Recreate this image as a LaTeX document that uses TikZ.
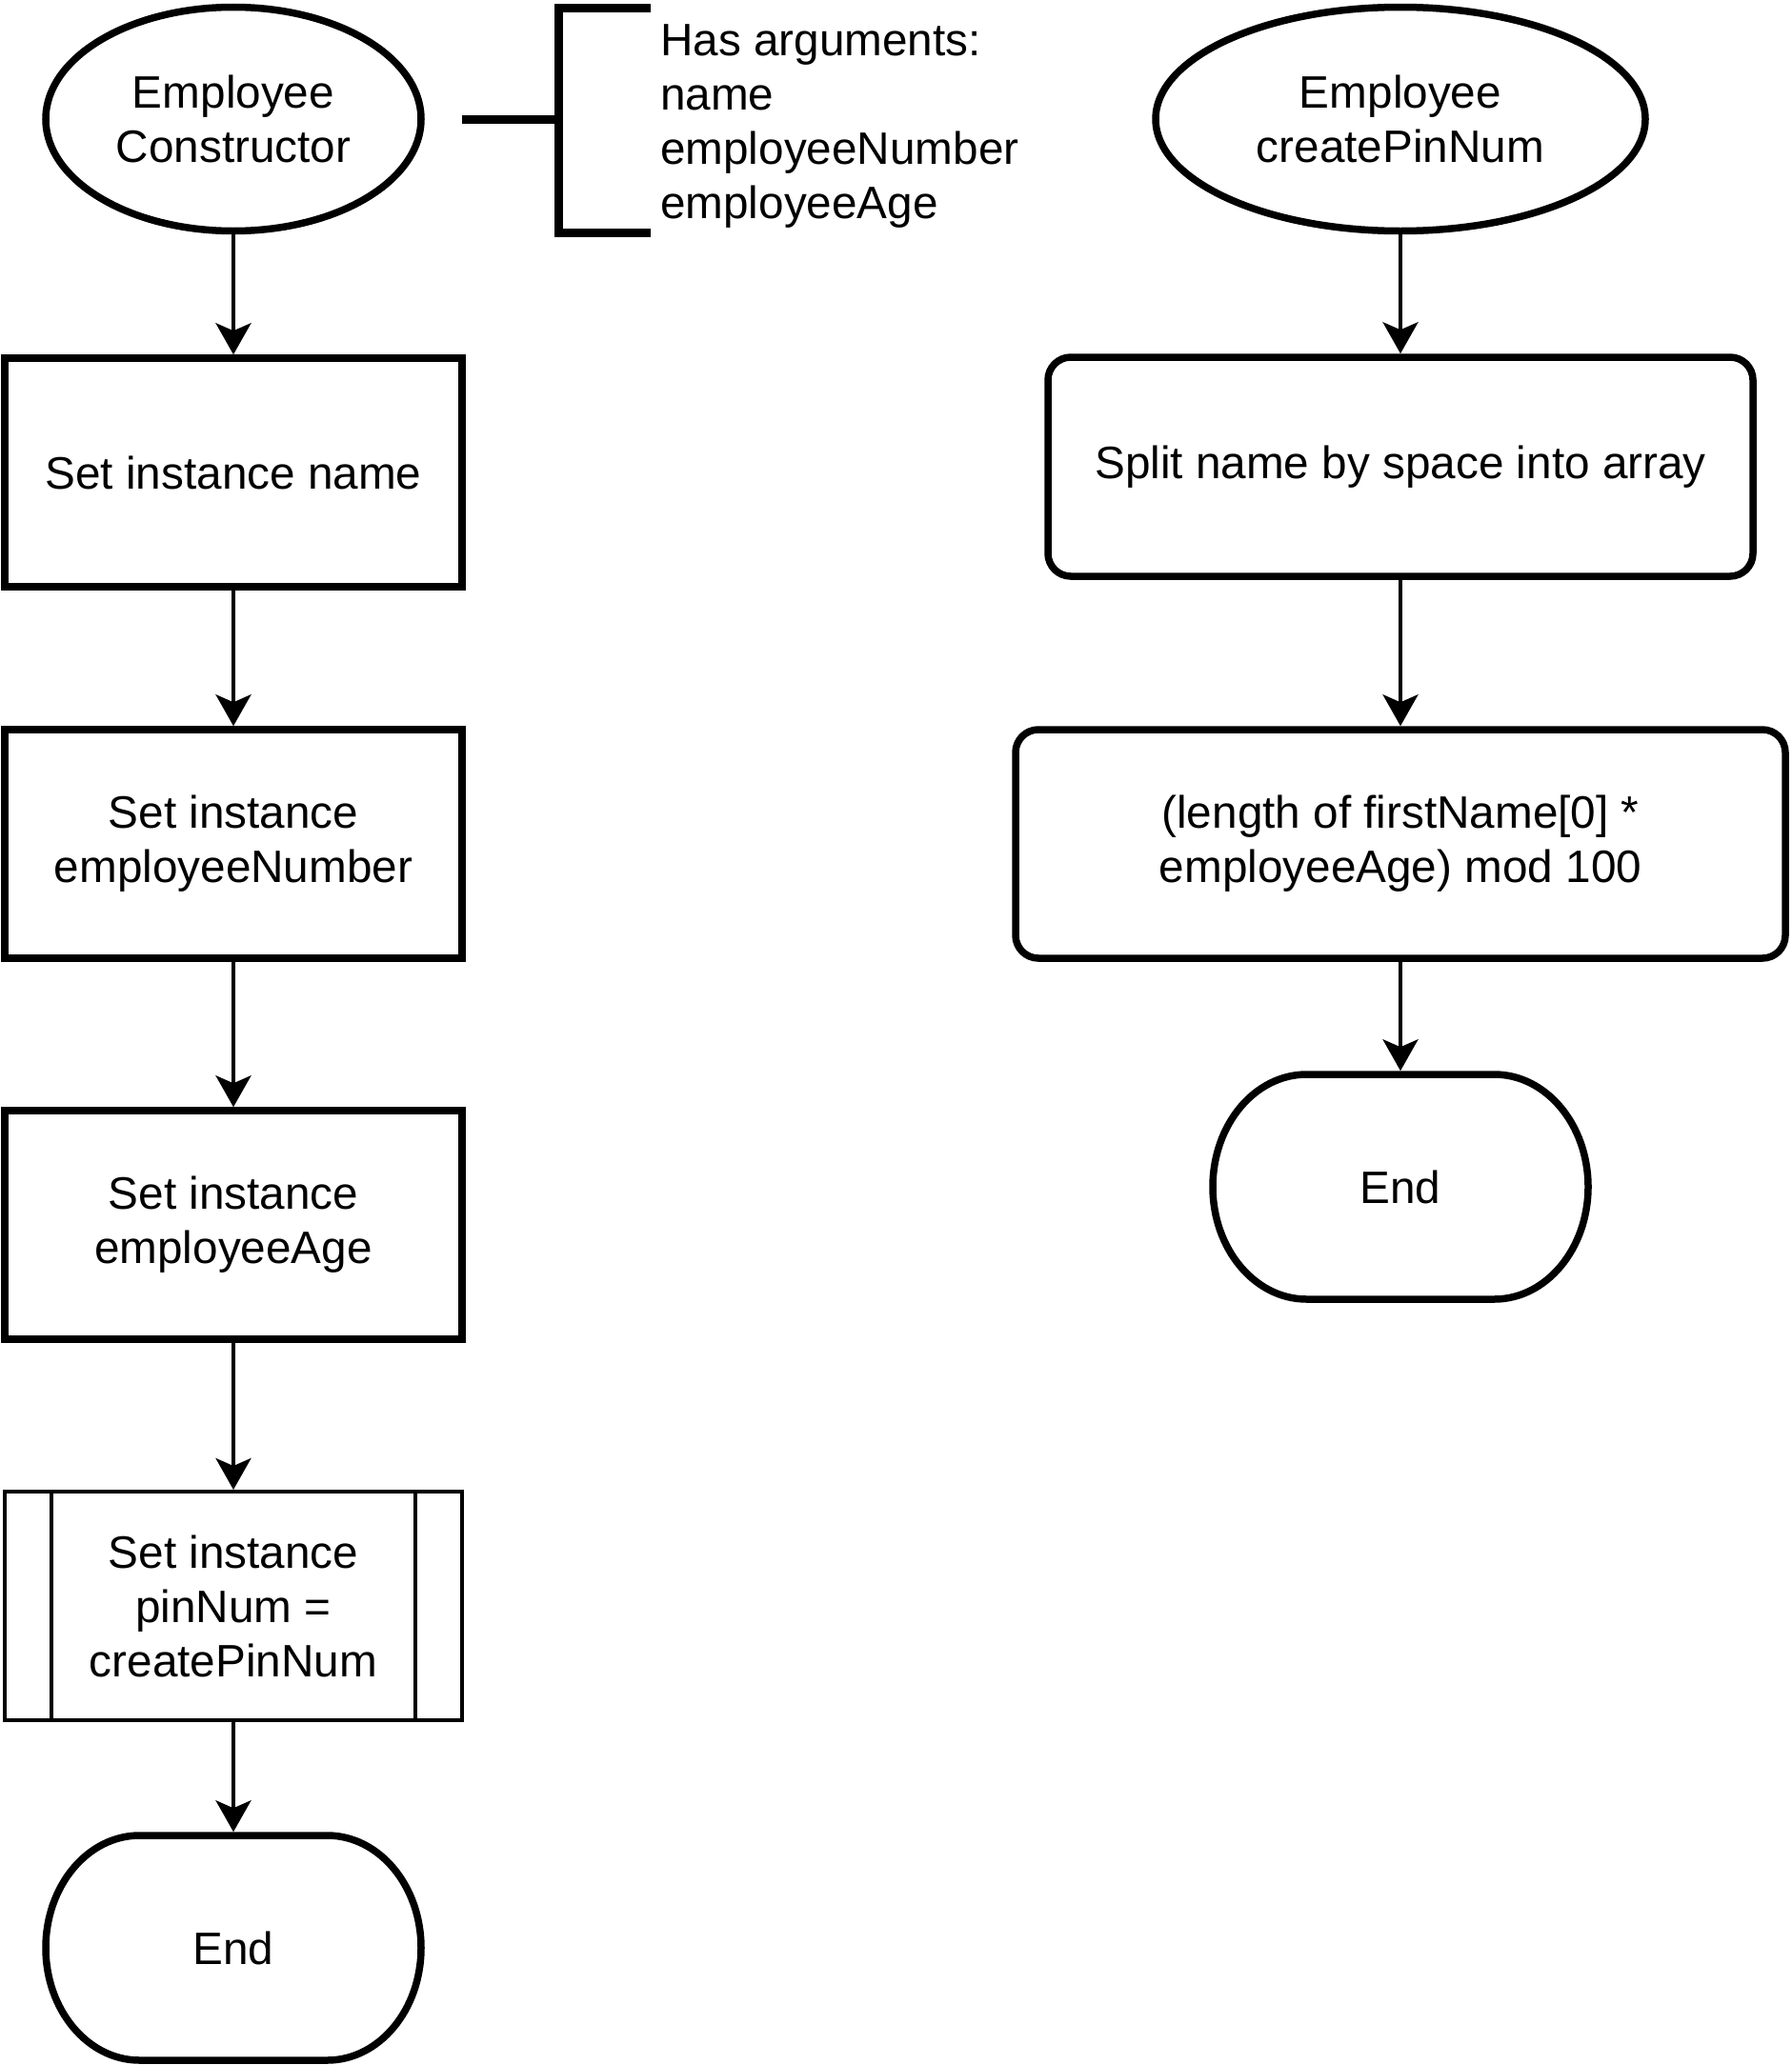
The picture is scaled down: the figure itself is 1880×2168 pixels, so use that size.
\documentclass[tikz,border=0pt]{standalone}
\usepackage{fontspec}
\setmainfont{Liberation Sans}
\usetikzlibrary{arrows.meta,shapes.geometric}

\begin{document}
\begin{tikzpicture}[x=1pt, y=1pt, font=\fontsize{47.7}{57}\selectfont,
  box/.style={draw, line width=7.5pt, minimum width=480pt, minimum height=240pt, align=center, inner sep=0pt},
  start/.style={draw, ellipse, line width=7.5pt, minimum height=235pt, align=center, inner sep=0pt},
  roundbox/.style={box, rounded corners=24pt, minimum height=230pt},
  subproc/.style={box, line width=4pt},
  stop/.style={minimum width=394pt, minimum height=236pt, outer sep=3.75pt},
  flow/.style={line width=4pt, -{Stealth[length=33pt, width=37pt, inset=8pt]}}]

\useasboundingbox (0,0) rectangle (1880,-2168);

\begin{scope}
\node[start, minimum width=394pt] (ctor) at (245,-125) {Employee\\Constructor};
\node[box] (setname) at (245,-496) {Set instance name};
\node[box] (setnum) at (245,-886) {Set instance\\employeeNumber};
\node[box] (setage) at (245,-1286) {Set instance\\employeeAge};
\node[subproc] (setpin) at (245,-1686) {Set instance\\pinNum =\\createPinNum};
\node[stop] (end1) at (245,-2045) {End};
\end{scope}

\draw[line width=4pt] ([xshift=51pt]setpin.north west) -- ([xshift=51pt]setpin.south west)
  ([xshift=-51pt]setpin.north east) -- ([xshift=-51pt]setpin.south east);

\node[anchor=west, align=left, inner sep=0pt] (args) at (693,-133)
  {Has arguments:\\name\\employeeNumber\\employeeAge};
\coordinate (note) at (586,-125);
\draw[line width=9pt] (note) ++(97,117) -- ++(-97,0) -- ++(0,-236) -- ++(97,0)
  (note) -- ++(-101,0);

\begin{scope}
\node[start, minimum width=514pt] (pinfun) at (1470,-125) {Employee\\createPinNum};
\node[roundbox, minimum width=740pt] (split) at (1470,-490) {Split name by space into array};
\node[roundbox, minimum width=808pt, minimum height=240pt] (calc) at (1470,-886)
  {(length of firstName[0] *\\employeeAge) mod 100};
\node[stop] (end2) at (1470,-1246) {End};
\end{scope}

\foreach \n in {end1,end2}
  \draw[line width=7.5pt] ([shift={(-98.5,118)}]\n.center) -- ([shift={(98.5,118)}]\n.center)
    arc[start angle=90, end angle=-90, x radius=98.5, y radius=118]
    -- ([shift={(-98.5,-118)}]\n.center)
    arc[start angle=270, end angle=90, x radius=98.5, y radius=118] -- cycle;

\begin{scope}[flow]
\draw (ctor) -- (setname);
\draw (setname) -- (setnum);
\draw (setnum) -- (setage);
\draw (setage) -- (setpin);
\draw (setpin) -- (end1);
\draw (pinfun) -- (split);
\draw (split) -- (calc);
\draw (calc) -- (end2);
\end{scope}
\end{tikzpicture}
\end{document}
